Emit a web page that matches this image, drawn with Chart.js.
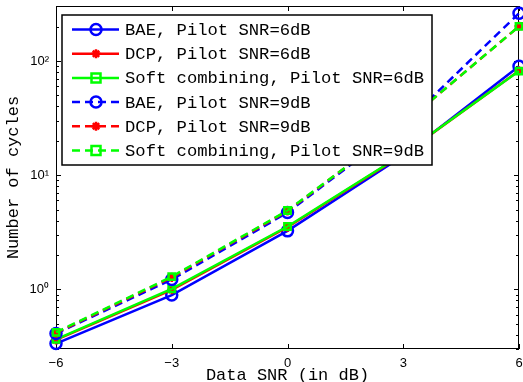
<!DOCTYPE html>
<html>
<head>
  <script src="https://cdn.jsdelivr.net/npm/chart.js@4.4.1/dist/chart.umd.min.js"></script>
  <style>
    body { margin: 0; background: white; }
    .container { width: 523px; height: 382px; position: relative; }
  </style>
</head>
<body>
  <div class="container">
    <canvas id="cycleChart" width="523" height="382"></canvas>
  </div>

  <script>
    // x axis: data SNR in dB
    const snr = [-6, -3, 0, 3, 6];
    const xTicks = [-6, -3, 0, 3, 6];
    const yTicks = [1, 10, 100];

    // number of cycles
    const baePilot6 = [0.335, 0.89, 3.25, 14.8, 90];
    const dcpPilot6 = [0.36, 0.99, 3.5, 15.2, 82];
    const scPilot6  = [0.365, 1.01, 3.55, 15.3, 81.5];
    const baePilot9 = [0.41, 1.22, 4.7, 27.5, 262];
    const dcpPilot9 = [0.415, 1.27, 4.85, 28, 201];
    const scPilot9  = [0.42, 1.29, 4.9, 28, 201];

    const labels = [
      'BAE, Pilot SNR=6dB',
      'DCP, Pilot SNR=6dB',
      'Soft combining, Pilot SNR=6dB',
      'BAE, Pilot SNR=9dB',
      'DCP, Pilot SNR=9dB',
      'Soft combining, Pilot SNR=9dB'
    ];
    const series = [baePilot6, dcpPilot6, scPilot6, baePilot9, dcpPilot9, scPilot9];

    const colors = ['#0000ff', '#ff0000', '#00ff00', '#0000ff', '#ff0000', '#00ff00'];
    const markers = ['circle', 'star', 'rect', 'circle', 'star', 'rect'];
    const markerSize = { circle: 5.5, star: 4.5, rect: 4.5 };
    const dashed = [false, false, false, true, true, true];

    const sup = { '-1': '\u207B\u00B9', '0': '\u2070', '1': '\u00B9', '2': '\u00B2' };
    const monoFont = "'Liberation Mono', 'DejaVu Sans Mono', monospace";
    const sansFont = "'Liberation Sans', Arial, sans-serif";

    const datasets = series.map((vals, i) => ({
      label: labels[i],
      data: snr.map((x, j) => ({ x: x, y: vals[j] })),
      borderColor: colors[i],
      backgroundColor: 'rgba(0,0,0,0)',
      borderWidth: 2.5,
      borderDash: dashed[i] ? [8, 5] : [],
      pointStyle: markers[i],
      pointRadius: markerSize[markers[i]],
      pointBorderWidth: 2.5,
      pointBorderColor: colors[i],
      pointBackgroundColor: 'rgba(0,0,0,0)',
      tension: 0,
      clip: false,
      order: series.length - 1 - i   // later series on top, like matlab
    }));

    function drawMarker(ctx, style, x, y, r) {
      ctx.beginPath();
      if (style === 'circle') {
        ctx.arc(x, y, r, 0, Math.PI * 2);
      } else if (style === 'rect') {
        ctx.rect(x - r, y - r, 2 * r, 2 * r);
      } else {
        ctx.moveTo(x - r, y); ctx.lineTo(x + r, y);
        ctx.moveTo(x, y - r); ctx.lineTo(x, y + r);
        const d = r * Math.SQRT1_2;
        ctx.moveTo(x - d, y - d); ctx.lineTo(x + d, y + d);
        ctx.moveTo(x - d, y + d); ctx.lineTo(x + d, y - d);
      }
      ctx.stroke();
    }

    function noPadding(scale) {
      scale.paddingLeft = 0;
      scale.paddingRight = 0;
      scale.paddingTop = 0;
      scale.paddingBottom = 0;
    }

    // box + inward ticks like a matlab axes
    const axesBox = {
      id: 'axesBox',
      beforeDatasetsDraw(chart) {
        const { ctx, chartArea: a, scales } = chart;
        ctx.save();
        ctx.strokeStyle = '#000';
        ctx.lineWidth = 1;
        ctx.strokeRect(a.left + 0.5, a.top + 0.5, a.right - a.left - 1, a.bottom - a.top - 1);
        ctx.beginPath();
        xTicks.forEach(v => {
          const px = Math.round(scales.x.getPixelForValue(v)) + 0.5;
          ctx.moveTo(px, a.bottom); ctx.lineTo(px, a.bottom - 5);
          ctx.moveTo(px, a.top); ctx.lineTo(px, a.top + 5);
        });
        const yMin = scales.y.min, yMax = scales.y.max;
        for (let k = -1; k <= 2; k++) {
          for (let m = 1; m <= 9; m++) {
            const v = m * Math.pow(10, k);
            if (v < yMin || v > yMax) continue;
            const py = Math.round(scales.y.getPixelForValue(v)) + 0.5;
            const len = m === 1 ? 5 : 3;
            ctx.moveTo(a.left, py); ctx.lineTo(a.left + len, py);
            ctx.moveTo(a.right, py); ctx.lineTo(a.right - len, py);
          }
        }
        ctx.stroke();
        ctx.restore();
      },
      afterDraw(chart) {
        const ctx = chart.ctx;
        const box = { left: 62, top: 15, right: 432, bottom: 165 };
        ctx.save();
        ctx.fillStyle = '#fff';
        ctx.fillRect(box.left, box.top, box.right - box.left, box.bottom - box.top);
        ctx.strokeStyle = '#000';
        ctx.lineWidth = 1.5;
        ctx.strokeRect(box.left, box.top, box.right - box.left, box.bottom - box.top);
        chart.data.datasets.forEach((ds, i) => {
          const y = 29.5 + i * 24.2;
          ctx.strokeStyle = ds.borderColor;
          ctx.lineWidth = 2.5;
          ctx.setLineDash(ds.borderDash);
          ctx.beginPath();
          ctx.moveTo(72, y); ctx.lineTo(119, y);
          ctx.stroke();
          ctx.setLineDash([]);
          drawMarker(ctx, ds.pointStyle, 96, y, ds.pointRadius);
          ctx.fillStyle = '#000';
          ctx.font = '17.2px ' + monoFont;
          ctx.textBaseline = 'middle';
          ctx.fillText(ds.label, 125, y + 1);
        });
        ctx.restore();
      }
    };

    const ctx = document.getElementById('cycleChart').getContext('2d');
    new Chart(ctx, {
      type: 'line',
      data: { datasets: datasets },
      plugins: [axesBox],
      options: {
        responsive: false,
        animation: false,
        layout: { autoPadding: false, padding: { top: 6, right: 4, left: 0, bottom: 0 } },
        plugins: { legend: { display: false }, tooltip: { enabled: false } },
        scales: {
          x: {
            type: 'linear',
            min: -6,
            max: 6,
            afterBuildTicks: scale => { scale.ticks = xTicks.map(v => ({ value: v })); },
            afterFit: scale => { scale.height = 33; noPadding(scale); },
            grid: { display: false, drawTicks: false },
            border: { display: false },
            ticks: {
              padding: 7,
              color: '#000',
              maxRotation: 0,
              font: { family: sansFont, size: 13 },
              callback: v => v < 0 ? '\u2212' + Math.abs(v) : String(v)
            },
            title: {
              display: true,
              text: 'Data SNR (in dB)',
              color: '#000',
              font: { family: monoFont, size: 17, lineHeight: 0.75 },
              padding: 0
            }
          },
          y: {
            type: 'logarithmic',
            min: 0.326,
            max: 303,
            afterBuildTicks: scale => { scale.ticks = yTicks.map(v => ({ value: v, major: true })); },
            afterFit: scale => { scale.width = 56; noPadding(scale); },
            grid: { display: false, drawTicks: false },
            border: { display: false },
            ticks: {
              padding: 7,
              color: '#000',
              autoSkip: false,
              font: { family: sansFont, size: 13 },
              callback: v => '10' + sup[String(Math.round(Math.log10(v)))]
            },
            title: {
              display: true,
              text: 'Number of cycles',
              color: '#000',
              font: { family: monoFont, size: 17 },
              padding: { top: 3, bottom: 0 }
            }
          }
        }
      }
    });
  </script>
</body>
</html>
